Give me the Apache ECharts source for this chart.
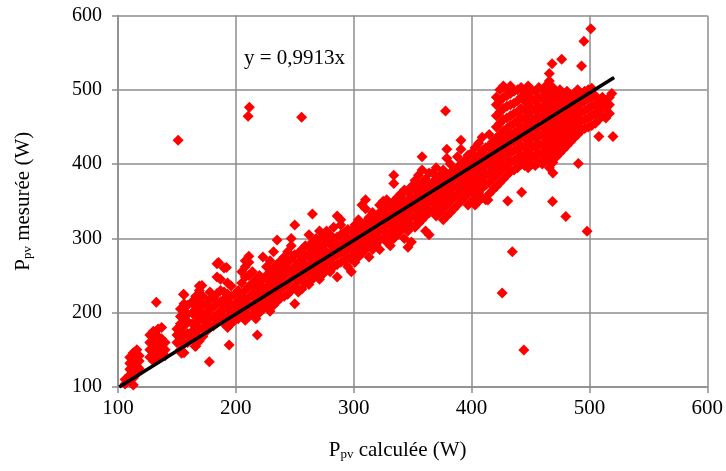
<!DOCTYPE html>
<html>
<head>
<meta charset="utf-8">
<script src="https://cdn.jsdelivr.net/npm/echarts@6/dist/echarts.min.js"></script>
<style>html,body{margin:0;padding:0;background:#fff}#c{width:726px;height:471px}</style>
</head>
<body>
<div id="c"></div>
<script>
// Axis ticks
const xTicks = [100, 200, 300, 400, 500, 600];
const yTicks = [100, 200, 300, 400, 500, 600];

// Scatter columns: [x, y1, y2, ...]
const lowCols = [
[106,104,110],[110,108,116,124,132,140],[113,112,122,130,138,146],[116,118,128,136,144,150],[118,125,135,142],
[127,140,150,160,170],[130,135,145,155,165,175],[134,138,148,158,168,178],[137,145,155,165,180],[140,142,150,160],
[150,160,170,178],[153,150,165,175,185,195,205],[156,146,158,170,182,192,202,212,224],[159,160,172,188,198,210],
[163,165,175,185,200,215],[166,155,170,182,195,208,222],[169,162,178,190,202,215,230,236],[172,168,180,195,210,222],
[175,175,188,200,212],[178,180,192,205,218,228],[181,182,195,208,220],[184,186,198,212,226,248,266],
[187,190,202,215,230,245],[190,185,195,208,218,228,260],[193,180,192,205,215,225,240],[196,185,198,210,222,236],
[199,190,200,212,225]
];
const midCols = [
[202,192,205,215,230],[205,195,210,222,240,255],[208,190,200,215,230,248,262,270],[211,195,208,220,235,250,268,276],
[214,198,210,225,240,255],[217,192,205,218,232,245],[220,200,212,225,238,250],[223,205,218,230,245,275],
[226,210,222,235,250,262],[229,202,215,228,242,255,270],[232,210,222,235,248,260,282],[235,215,228,240,252,265,298],
[238,220,232,245,258,270],[241,222,235,250,262,275],[244,225,240,255,268,282],[247,230,245,258,272,290,300],
[250,212,235,250,262,278,318],[253,228,242,255,268,280],[256,232,248,260,272,285],[259,240,252,265,278,290],
[262,238,250,262,275,288,305],[265,245,258,270,282,295,333],[268,250,262,275,288,300],[271,245,258,270,282,295,310],
[274,252,265,278,290,302],[277,258,270,282,295,310],[280,255,268,280,292,305],[283,262,275,288,300,315],
[286,248,265,278,290,302,330],[289,268,280,292,305,318,325],[292,270,282,295,308],[295,262,275,288,300,312],
[298,255,272,285,298,310]
];
const upperCols = [
[301,268,280,292,305,318],[304,275,288,300,312,325],[307,280,292,305,318,345],[310,285,298,310,322,340,352],
[313,275,290,302,315,328],[316,285,298,310,322,335],[319,292,305,318,330],[322,285,298,310,322,335,345],
[325,300,312,325,338,350],[328,295,308,320,332,345,352],[331,290,305,318,330,342],[334,300,312,325,338,350,374,385],
[337,305,318,330,342,355],[340,310,322,335,348,360],[343,300,315,328,340,352,365],[346,288,310,322,335,348,362],
[349,295,318,330,342,355,370],[352,315,328,340,352,365,378],[355,320,332,345,358,370,385],[358,325,338,350,362,375,392,410],
[361,310,330,342,355,368,380],[364,305,335,348,360,372,388],[367,338,350,362,375,388],[370,330,342,355,368,380,395],
[373,335,348,360,372,385],[376,325,340,352,365,378,392],[379,330,345,358,370,383,408,420],[382,335,350,362,375,388,400],
[385,340,355,368,380,392],[388,345,358,370,383,395,410],[391,350,362,375,388,400,420,432],[394,355,368,380,392,405],
[397,345,360,372,385,398,412],[400,350,365,378,390,402,415],[403,345,358,370,382,395,408,422],[406,350,362,375,388,400,412,428],
[409,355,368,380,392,405,418,436],[412,352,372,385,398,410,422],[415,360,375,388,400,412,425,440],[418,365,380,392,405,418,430]
];
const clusterCols = [
[421,370,385,398,410,422,435,450,465,480,490],[424,375,390,402,415,428,440,455,470,485,500],
[427,380,395,408,420,432,445,460,475,490,505],[430,385,398,410,422,435,448,462,478,492,500],
[433,390,402,415,428,440,452,465,480,495,505],[436,392,405,418,430,442,455,468,482,498],
[439,395,408,420,432,445,458,470,485,500],[442,400,412,425,438,450,462,475,490,503],
[445,398,410,422,435,448,460,472,485,498],[448,395,405,418,430,442,455,468,480,492,505],
[451,400,412,425,438,450,462,475,488,500],[454,398,410,422,435,448,460,472,485,498],
[457,402,415,428,440,452,465,478,490,503],[460,400,412,425,438,450,462,475,488,500],
[463,405,418,430,442,455,468,480,492,505],[466,395,410,422,435,448,460,472,485,498,512,522],
[469,388,402,415,428,440,452,465,478,490,503],[472,410,422,435,448,460,472,485,498],
[475,415,428,440,452,465,478,490,500],[478,420,432,445,458,470,482,495],[481,425,438,450,462,475,488,498],
[484,430,442,455,468,480,492],[487,435,448,460,472,485,495],[490,440,452,465,478,490,500],
[493,445,458,470,482,495],[496,448,460,472,485,498],[499,450,462,475,488,500],[502,452,465,478,490,502],
[505,455,468,480,492],[508,460,472,485],[511,465,478,490],[514,462,475,482],[517,468,480,490]
];
// Isolated points [x, y]
const outliers = [
[151,432],[211.5,476.6],[210.4,464.5],[255.8,463],[377.9,471.6],[501.2,582],[495.3,565.4],[476.5,541],
[468.3,534.9],[493.3,532],[519,495],[520,437],[508,437],[490.6,400.7],[442.5,362],[430.7,350.5],[468.7,349.6],
[480,329.4],[498,309.6],[434.6,282.2],[426,226.6],[444.4,149.8],[413.9,351.8],[113,102.7],[177.5,134],
[218.2,170],[194.3,156.6],[132.5,214],[185.3,267.4],[192,260.7],[171.2,236.5],[155.6,224.8],[154,145.3],[165.4,155]
];
// Trend line y = 0,9913x
const slope = 0.9913;
const trendX = [101, 521];

const points = [];
[lowCols, midCols, upperCols, clusterCols].forEach(cols => cols.forEach(c => {
  for (let i = 1; i < c.length; i++) points.push([c[0], c[i]]);
}));
outliers.forEach(p => points.push(p));
const trend = trendX.map(x => [x, slope * x]);

const gray = '#8c8c8c';
const serif = '"Liberation Serif","Times New Roman",serif';
const chart = echarts.init(document.getElementById('c'), null, {renderer: 'canvas'});
chart.setOption({
  animation: false,
  backgroundColor: '#fff',
  grid: {left: 118, right: 17, top: 15.5, bottom: 84, containLabel: false},
  xAxis: {
    type: 'value', min: xTicks[0], max: xTicks[xTicks.length - 1], interval: 100,
    axisLine: {show: true, lineStyle: {color: gray, width: 1.5}},
    axisTick: {show: true, inside: false, length: 6, lineStyle: {color: gray, width: 1.5}},
    splitLine: {show: true, lineStyle: {color: gray, width: 1.5}},
    axisLabel: {color: '#000', fontFamily: serif, fontSize: 21, margin: 11},
    name: '{p|P}{s|pv}{p| calculée (W)}',
    nameLocation: 'middle', nameGap: 48,
    nameTextStyle: {
      padding: [0, 30, 0, 0],
      rich: {
        p: {fontFamily: serif, fontSize: 21, color: '#000', lineHeight: 26, verticalAlign: 'bottom'},
        s: {fontFamily: serif, fontSize: 13, color: '#000', lineHeight: 14, verticalAlign: 'bottom'}
      }
    }
  },
  yAxis: {
    type: 'value', min: yTicks[0], max: yTicks[yTicks.length - 1], interval: 100,
    axisLine: {show: true, lineStyle: {color: gray, width: 1.5}},
    axisTick: {show: true, inside: false, length: 6, lineStyle: {color: gray, width: 1.5}},
    splitLine: {show: true, lineStyle: {color: gray, width: 1.5}},
    axisLabel: {color: '#000', fontFamily: serif, fontSize: 20, margin: 16},
    name: '{p|P}{s|pv}{p| mesurée (W)}',
    nameLocation: 'middle', nameGap: 84,
    nameTextStyle: {
      rich: {
        p: {fontFamily: serif, fontSize: 21, color: '#000', lineHeight: 26, verticalAlign: 'bottom'},
        s: {fontFamily: serif, fontSize: 13, color: '#000', lineHeight: 14, verticalAlign: 'bottom'}
      }
    }
  },
  graphic: [{
    type: 'text', left: 244, top: 48,
    style: {text: 'y = 0,9913x', fontFamily: serif, fontSize: 21, fill: '#000'}
  }],
  series: [{
    type: 'scatter', data: points, symbol: 'diamond', symbolSize: 11,
    large: false, itemStyle: {color: '#ff0000', opacity: 1}, z: 2
  }, {
    type: 'line', data: trend, showSymbol: false, symbol: 'none',
    lineStyle: {color: '#000', width: 3.5}, z: 3, silent: true
  }]
});
</script>
</body>
</html>
